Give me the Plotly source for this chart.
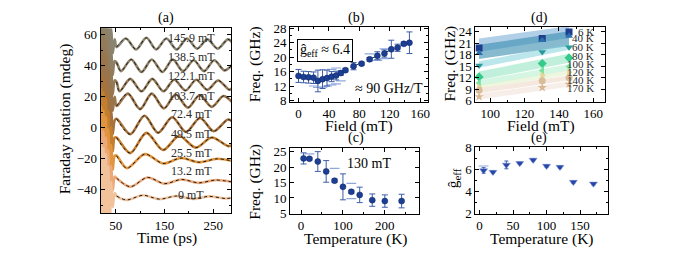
import plotly.graph_objects as go

# The page body adds an 8 px margin, so the figure is drawn 8 px smaller and
# every reference pixel position is shifted by that margin.
PAGE_MARGIN = 8
W, H = 677 - PAGE_MARGIN, 260 - PAGE_MARGIN
FONT = "Liberation Serif"


def px(x):
    return (x - PAGE_MARGIN) / W


def py(y):
    return 1 - (y - PAGE_MARGIN) / H


# ---------------- panel (a): Faraday rotation traces ----------------
labels_a = ["145.9 mT", "138.5 mT", "122.1 mT", "103.7 mT", "72.4 mT",
            "49.5 mT", "25.5 mT", "13.2 mT", "0 mT"]
offsets_a = [54, 40, 27.5, 17, 1.8, -9.3, -21, -34.5, -45]
label_y_a = [58, 45.9, 33.2, 20.6, 8.9, -3.8, -16.4, -27.9, -43.2]
colors_a = ["#8a8470", "#8e8066", "#937a58", "#9a744a", "#a8723c",
            "#c47f2e", "#e0953e", "#eda878", "#f2c29a"]

spike_t = [20, 22.5, 25, 27.5, 30, 32.5, 35, 38, 41, 44, 48]
spike_v = [35, -35, 32, -32, 28, -26, 20, -16, 10, -6, 3]

t_a1 = [52, 71, 92, 113, 133, 154, 175, 196, 217, 238, 259, 280, 290]
v_a1 = [-2, 3.5, -3.5, 4, -3.5, 3.5, -3.5, 3.5, -3, 3, -3, 3, 0.5]
t_a2 = [52, 61, 82, 103, 124, 146, 167, 188, 210, 231, 252, 273, 290]
v_a2 = [2, -3.5, 4, -4, 4, -4, 4, -3.5, 3.5, -3.5, 3.5, -3, 1]
t_a3 = [52, 58, 80, 103, 125, 148, 170, 193, 215, 238, 260, 283, 290]
v_a3 = [2, -4, 4, -4, 4, -4, 3.5, -3.5, 3.5, -3, 3, -3, -1.5]
t_a4 = [52, 75, 100, 124, 149, 173, 198, 222, 247, 271, 290]
v_a4 = [-3, 5, -5, 5, -4.5, 4.5, -4, 4, -3.5, 3.5, -1]
t_a5 = [52, 80, 109, 137, 166, 194, 223, 251, 280, 290]
v_a5 = [4, -6, 6, -5, 5, -4.5, 4.5, -4, 3.5, 2]
t_a6 = [52, 80, 113, 147, 180, 214, 247, 281, 290]
v_a6 = [3, -7, 6, -5, 4, -3.5, 3, -2.5, -1.5]
t_a7 = [52, 73, 110, 147, 184, 221, 258, 290]
v_a7 = [3, -5, 4, -2, 1.5, -1.2, 1, -0.5]
t_a8 = [52, 80, 115, 150, 185, 220, 255, 290]
v_a8 = [2, -3.5, 2.5, -1.5, 1.2, -1, 0.8, -0.5]
t_a9 = [52, 72, 106, 140, 174, 208, 242, 276, 290]
v_a9 = [1, -1.5, 1.5, -1, 1, -0.8, 0.8, -0.6, 0]

osc_t = [t_a1, t_a2, t_a3, t_a4, t_a5, t_a6, t_a7, t_a8, t_a9]
osc_v = [v_a1, v_a2, v_a3, v_a4, v_a5, v_a6, v_a7, v_a8, v_a9]

# ---------------- panel (b): frequency vs field ----------------
field_b = [0, 6.6, 13.2, 19.8, 25.5, 31.6, 37.5, 43.5, 49.5, 55.7, 61.7,
           72.4, 83, 93.5, 103.7, 113, 122.1, 130.3, 138.5, 145.9]
freq_b = [14.8, 14.5, 14.4, 14.3, 13.4, 13.9, 14.2, 14.6, 14.9, 15.6, 16.4,
          17.5, 18.2, 19.4, 20.4, 21.0, 22.2, 22.6, 23.7, 24.0]
err_b = [1.8, 1.6, 1.6, 1.6, 3.0, 2.6, 2.2, 1.4, 1.2, 0.6, 0.5,
         1.0, 0.4, 0.5, 1.1, 1.0, 2.5, 1.0, 0.5, 3.0]
dash_b_x = [19.8, 25.5, 31.6, 37.5, 43.5, 49.5, 55.7, 43.5, 49.5,
            93.5, 103.7, 113, 113]
dash_b_y = [12.0, 11.6, 11.7, 12.0, 12.3, 12.6, 13.4, 16.6, 17.0,
            20.9, 19.1, 19.6, 22.3]
fit_b_x = [25, 146]
fit_b_y = [13.2, 24.2]

# ---------------- panel (c): frequency vs temperature ----------------
temp_c = [6, 20, 40, 60, 80, 100, 120, 140, 170, 200, 240]
freq_c = [22.8, 22.7, 21.8, 18.6, 15.6, 13.6, 12.0, 11.0, 9.3, 9.0, 9.0]
err_c = [1.8, 0.4, 3.2, 3.5, 0.5, 4.2, 0.5, 2.5, 2.0, 2.0, 2.2]
dash_c_x = [20, 80, 120, 120]
dash_c_y = [24.3, 19.6, 14.7, 9.8]

# ---------------- panel (d): frequency vs field for temperatures ----------------
field_d = [93.5, 130.3, 145.9]
temps_d = ["6 K", "40 K", "60 K", "80 K", "100 K", "120 K", "140 K", "170 K"]
freq_6K = [19.8, 22.3, 24.0]
freq_40K = [18.4, 21.8, 22.9]
freq_60K = [15.2, 18.7, 20.0]
freq_80K = [12.2, 15.7, 17.2]
freq_100K = [10.6, 13.9, 14.9]
freq_120K = [9.5, 12.6, 13.4]
freq_140K = [8.7, 11.2, 12.0]
freq_170K = [7.0, 9.4, 10.3]
band_lo_left = [18.8, 16.9, 14.6, 11.4, 9.9, 9.2, 7.9, 6.3]
band_hi_left = [22.3, 20.6, 16.3, 13.6, 11.3, 10.1, 9.3, 7.8]
band_lo_right = [22.4, 20.3, 19.3, 15.9, 13.9, 12.8, 11.3, 9.6]
band_hi_right = [25.5, 24.2, 20.8, 18.3, 15.5, 13.9, 12.6, 11.0]
label_y_d = [24.0, 22.3, 20.0, 17.8, 15.6, 13.5, 11.5, 9.4]

# ---------------- panel (e): g-factor vs temperature ----------------
temp_e = [6, 20, 40, 60, 80, 100, 120, 140, 170]
g_e = [5.9, 5.75, 6.4, 6.55, 6.85, 6.3, 6.2, 4.85, 4.7]
err_e = [0.25, 0.1, 0.35, 0.1, 0.1, 0.1, 0.1, 0.1, 0.1]

fig = go.Figure()

# panel (a)
for i in range(len(labels_a)):
    off = offsets_a[i]
    ts = spike_t + osc_t[i]
    vs = [v + off for v in spike_v + osc_v[i]]
    fig.add_trace(go.Scatter(x=ts, y=vs, mode="lines", xaxis="x", yaxis="y",
                             line=dict(color=colors_a[i], width=2.6, shape="spline", smoothing=0.9),
                             showlegend=False, hoverinfo="skip"))
    fig.add_trace(go.Scatter(x=osc_t[i], y=[v + off for v in osc_v[i]], mode="lines",
                             xaxis="x", yaxis="y",
                             line=dict(color="#1a1a1a", width=1, dash="dot", shape="spline", smoothing=0.9),
                             showlegend=False, hoverinfo="skip"))

# panel (b)
fig.add_trace(go.Scatter(x=fit_b_x, y=fit_b_y, mode="lines", xaxis="x2", yaxis="y2",
                         line=dict(color="#22304f", width=1, dash="dash"), showlegend=False))
fig.add_trace(go.Scatter(x=dash_b_x, y=dash_b_y, mode="markers", xaxis="x2", yaxis="y2",
                         marker=dict(symbol="line-ew", size=7, line=dict(color="#8fa8dc", width=1.2)),
                         showlegend=False))
fig.add_trace(go.Scatter(x=field_b, y=freq_b, mode="markers", xaxis="x2", yaxis="y2",
                         error_y=dict(type="data", array=err_b, color="#3d5ea8", thickness=1, width=3),
                         marker=dict(symbol="circle", size=6, color="#1c3f93",
                                     line=dict(color="#0d2466", width=0.5)),
                         showlegend=False))

# panel (c)
fig.add_trace(go.Scatter(x=dash_c_x, y=dash_c_y, mode="markers", xaxis="x3", yaxis="y3",
                         marker=dict(symbol="line-ew", size=7, line=dict(color="#8fa8dc", width=1.2)),
                         showlegend=False))
fig.add_trace(go.Scatter(x=temp_c, y=freq_c, mode="markers", xaxis="x3", yaxis="y3",
                         error_y=dict(type="data", array=err_c, color="#3d5ea8", thickness=1, width=3),
                         marker=dict(symbol="circle", size=6, color="#1c3f93",
                                     line=dict(color="#0d2466", width=0.5)),
                         showlegend=False))

# panel (d) bands
band_colors = ["rgba(125,175,215,0.6)", "rgba(55,140,175,0.6)", "rgba(120,205,215,0.5)",
               "rgba(130,225,185,0.5)", "rgba(170,238,200,0.5)", "rgba(220,238,190,0.5)",
               "rgba(236,212,192,0.5)", "rgba(242,222,212,0.5)"]
for i in range(len(temps_d)):
    fig.add_trace(go.Scatter(x=[field_d[0], field_d[2], field_d[2], field_d[0], field_d[0]],
                             y=[band_lo_left[i], band_lo_right[i], band_hi_right[i], band_hi_left[i], band_lo_left[i]],
                             mode="lines", fill="toself", fillcolor=band_colors[i],
                             line=dict(width=0), xaxis="x4", yaxis="y4",
                             showlegend=False, hoverinfo="skip"))

series_d = [freq_6K, freq_40K, freq_60K, freq_80K, freq_100K, freq_120K, freq_140K, freq_170K]
symbols_d = ["square", "triangle-up", "triangle-down", "diamond", "triangle-left",
             "triangle-right", "circle", "star"]
mcolors_d = ["#1f3d8c", "#2a6fb0", "#2a9a9a", "#35c98a", "#78e0a0", "#e6d596", "#d9bc9a", "#d8b894"]
for i in range(len(temps_d)):
    fig.add_trace(go.Scatter(x=field_d, y=series_d[i], mode="markers", xaxis="x4", yaxis="y4",
                             marker=dict(symbol=symbols_d[i], size=7, color=mcolors_d[i]),
                             showlegend=False))

# panel (e)
fig.add_trace(go.Scatter(x=[6], y=[6.3], mode="markers", xaxis="x5", yaxis="y5",
                         marker=dict(symbol="line-ew", size=7, line=dict(color="#8fa8dc", width=1.2)),
                         showlegend=False))
fig.add_trace(go.Scatter(x=temp_e, y=g_e, mode="markers", xaxis="x5", yaxis="y5",
                         error_y=dict(type="data", array=err_e, color="#3d5ea8", thickness=1, width=2),
                         marker=dict(symbol="triangle-down", size=7, color="#2746a8",
                                     line=dict(color="#7d95d6", width=0.5)),
                         showlegend=False))

tickfont = dict(family=FONT, size=13, color="black")


def axis(domain, rng, anchor, tickvals=None, minor_vals=None):
    d = dict(domain=domain, range=rng, anchor=anchor, showline=True, linecolor="black",
             linewidth=1, mirror="allticks", ticks="inside", ticklen=4, tickwidth=1,
             tickcolor="black", showgrid=False, zeroline=False, tickfont=tickfont)
    if tickvals is not None:
        d["tickmode"] = "array"
        d["tickvals"] = tickvals
    if minor_vals is not None:
        d["minor"] = dict(ticks="inside", ticklen=2, tickcolor="black", showgrid=False,
                          tickvals=minor_vals)
    return d


layout = dict(
    width=W, height=H, margin=dict(l=0, r=0, t=0, b=0),
    paper_bgcolor="white", plot_bgcolor="white", showlegend=False,
    xaxis=axis([px(101), px(232)], [19.4, 287], "y", tickvals=[50, 150, 250], minor_vals=[100, 200]),
    yaxis=axis([py(219), py(22)], [-55.2, 64.2], "x", tickvals=[-40, -20, 0, 20, 40, 60], minor_vals=[-50, -30, -10, 10, 30, 50]),
    xaxis2=axis([px(291), px(429)], [-11, 170], "y2", tickvals=[0, 40, 80, 120, 160], minor_vals=[20, 60, 100, 140]),
    yaxis2=axis([py(100), py(21)], [7.7, 28.3], "x2", tickvals=[8, 12, 16, 20, 24, 28], minor_vals=[10, 14, 18, 22, 26]),
    xaxis3=axis([px(291), px(420)], [-26, 281], "y3", tickvals=[0, 100, 200], minor_vals=[50, 150, 250]),
    yaxis3=axis([py(219.3), py(149)], [4.9, 26.3], "x3", tickvals=[5, 10, 15, 20, 25]),
    xaxis4=axis([px(476.7), px(606.7)], [91.3, 166.8], "y4", tickvals=[100, 120, 140, 160], minor_vals=[110, 130, 150]),
    yaxis4=axis([py(100), py(20.7)], [5.75, 25.3], "x4", tickvals=[6, 9, 12, 15, 18, 21, 24]),
    xaxis5=axis([px(476.7), px(609.3)], [-6.4, 191], "y5", tickvals=[0, 50, 100, 150], minor_vals=[25, 75, 125, 175]),
    yaxis5=axis([py(219.3), py(148.5)], [2, 8], "x5", tickvals=[2, 4, 6, 8], minor_vals=[3, 5, 7]),
)

ann = []


def ptext(text, x, y, size=14, angle=0):
    ann.append(dict(text=text, x=px(x), y=py(y), xref="paper", yref="paper",
                    showarrow=False, textangle=angle, xanchor="center", yanchor="middle",
                    font=dict(family=FONT, size=size, color="black")))


ptext("(a)", 166, 11)
ptext("(b)", 358, 11)
ptext("(c)", 357, 139)
ptext("(d)", 541, 11)
ptext("(e)", 541, 139)
ptext("Faraday rotation (mdeg)", 66, 118, 15.5, -90)
ptext("Time (ps)", 167, 245, 15.5)
ptext("Freq. (GHz)", 256, 60, 15.5, -90)
ptext("Field (mT)", 360, 126, 15.5)
ptext("Freq. (GHz)", 256, 185, 15.5, -90)
ptext("Temperature (K)", 357, 246, 15.5)
ptext("Freq. (GHz)", 451, 60, 15.5, -90)
ptext("Field (mT)", 543, 126, 15.5)
ptext("ĝ<sub>eff</sub>", 455, 182, 15.5, -90)
ptext("Temperature (K)", 543, 246, 15.5)

for i in range(len(labels_a)):
    ann.append(dict(text=labels_a[i], x=205, y=label_y_a[i], xref="x", yref="y", showarrow=False,
                    xanchor="center", yanchor="middle",
                    font=dict(family=FONT, size=12, color="#2a2a2a")))

ann.append(dict(text="ĝ<sub>eff</sub> ≈ 6.4", x=px(326), y=py(34), xref="paper", yref="paper",
                showarrow=False, bordercolor="black", borderwidth=1, borderpad=2,
                bgcolor="white", font=dict(family=FONT, size=14, color="black")))
ann.append(dict(text="≈ 90 GHz/T", x=119, y=11.2, xref="x2", yref="y2", showarrow=False,
                font=dict(family=FONT, size=14, color="black")))
ann.append(dict(text="130 mT", x=162, y=21, xref="x3", yref="y3", showarrow=False,
                font=dict(family=FONT, size=14, color="black")))
for i in range(len(temps_d)):
    ann.append(dict(text=temps_d[i], x=161.5, y=label_y_d[i], xref="x4", yref="y4", showarrow=False,
                    xanchor="right", yanchor="middle",
                    font=dict(family=FONT, size=11, color="#2a2a2a")))

layout["annotations"] = ann
fig.update_layout(**layout)
fig.write_html("out.html")
